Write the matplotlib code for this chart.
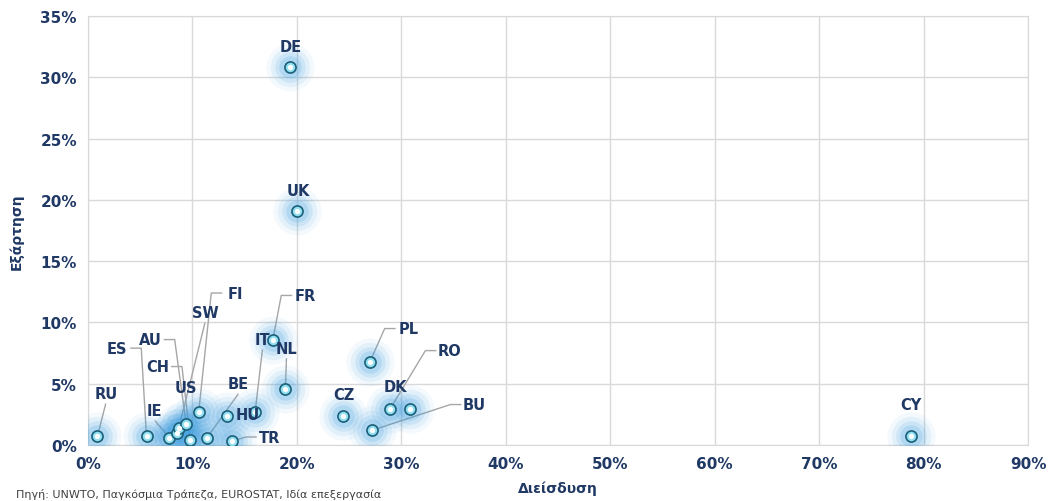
import numpy as np
import matplotlib
matplotlib.use("Agg")
import matplotlib.pyplot as plt
from matplotlib.ticker import MultipleLocator, PercentFormatter

# data (percent)
countries = ["DE", "UK", "FR", "NL", "IT", "PL", "RO", "DK", "CZ", "BU", "CY",
             "RU", "ES", "IE", "US", "SW", "AU", "CH", "FI", "BE", "HU", "TR"]
penetration = [19.3, 20.0, 17.7, 18.9, 16.0, 27.0, 28.9, 30.8, 24.4, 27.2, 78.8,
               0.9, 5.6, 7.8, 8.5, 8.7, 9.4, 9.8, 10.6, 11.4, 13.3, 13.8]
dependence = [30.8, 19.1, 8.6, 4.6, 2.7, 6.8, 2.9, 2.9, 2.4, 1.2, 0.7,
              0.7, 0.7, 0.6, 1.0, 1.4, 1.7, 0.4, 2.7, 0.6, 2.4, 0.3]

x_label = "Διείσδυση"
y_label = "Εξάρτηση"
source = "Πηγή: UNWTO, Παγκόσμια Τράπεζα, EUROSTAT, Ιδία επεξεργασία"

# label placement: name -> (x, y, leader side)
label_pos = {
    "DE": (19.4, 32.5, None), "UK": (20.1, 20.8, None),
    "FI": (14.1, 12.4, "L"), "FR": (20.8, 12.2, "L"),
    "SW": (11.2, 10.8, "B"), "AU": (6.0, 8.6, "R"),
    "ES": (2.8, 7.9, "R"), "IT": (16.7, 8.6, "B"),
    "NL": (19.0, 7.9, "B"), "CH": (6.7, 6.4, "R"),
    "PL": (30.7, 9.5, "L"), "RO": (34.6, 7.7, "L"),
    "US": (9.4, 4.7, None), "BE": (14.4, 5.0, "B"),
    "RU": (1.7, 4.2, "B"), "CZ": (24.5, 4.1, None),
    "DK": (29.4, 4.8, None), "HU": (15.3, 2.5, None),
    "IE": (6.4, 2.8, "B"), "BU": (37.0, 3.3, "L"),
    "TR": (17.4, 0.65, "L"), "CY": (78.8, 3.3, None),
}

navy = "#1f3864"
grid_c = "#d9d9d9"

fig = plt.figure(figsize=(10.49, 5.02), dpi=100)
ax = fig.add_axes([0.0839, 0.1116, 0.8961, 0.8545])
ax.set_xlim(0, 90)
ax.set_ylim(0, 35)
ax.xaxis.set_major_locator(MultipleLocator(10))
ax.yaxis.set_major_locator(MultipleLocator(5))
ax.xaxis.set_major_formatter(PercentFormatter(decimals=0))
ax.yaxis.set_major_formatter(PercentFormatter(decimals=0))
ax.grid(True, color=grid_c, linewidth=1)
ax.set_axisbelow(True)
for s in ax.spines.values():
    s.set_color(grid_c)
ax.tick_params(length=0, pad=8, colors=navy, labelsize=11)
for t in ax.get_xticklabels() + ax.get_yticklabels():
    t.set_fontweight("bold")

ax.set_xlabel(x_label, fontsize=10, fontweight="bold", color=navy, labelpad=7)
ax.set_ylabel(y_label, fontsize=10, fontweight="bold", color=navy, labelpad=12)

# leader lines
fig.canvas.draw()
to_disp = ax.transData
to_data = ax.transData.inverted()
px, py = dict(zip(countries, penetration)), dict(zip(countries, dependence))
for name, (lx, ly, side) in label_pos.items():
    if side is None:
        continue
    dx, dy = to_disp.transform((lx, ly))
    tx, ty = to_disp.transform((px[name], py[name]))
    if side == "L":
        pts = [(dx - 13, dy), (dx - 24, dy), (tx, ty)]
    elif side == "R":
        pts = [(dx + 13, dy), (dx + 24, dy), (tx, ty)]
    else:
        pts = [(dx, dy - 10), (tx, ty)]
    pts = to_data.transform(pts)
    ax.plot(pts[:, 0], pts[:, 1], color="#a6a6a6", linewidth=1, zorder=2,
            solid_capstyle="butt")

# glow around markers
for s, a in [(1200, 0.06), (800, 0.09), (480, 0.13), (260, 0.18)]:
    ax.scatter(penetration, dependence, s=s, color="#3a9de0", alpha=a,
               linewidths=0, zorder=3)
ax.scatter(penetration, dependence, s=64, facecolor="#8fe0f2",
           edgecolor="#1c5f78", linewidths=1.2, zorder=4)
ax.scatter(penetration, dependence, s=15, facecolor="white",
           linewidths=0, zorder=5)

for name, (lx, ly, side) in label_pos.items():
    ax.text(lx, ly, name, ha="center", va="center", fontsize=10.5,
            fontweight="bold", color=navy, zorder=6)

fig.text(0.015, 0.004, source, fontsize=8, color="#404040", ha="left",
         va="bottom")

fig.savefig("out.png", dpi=100)
